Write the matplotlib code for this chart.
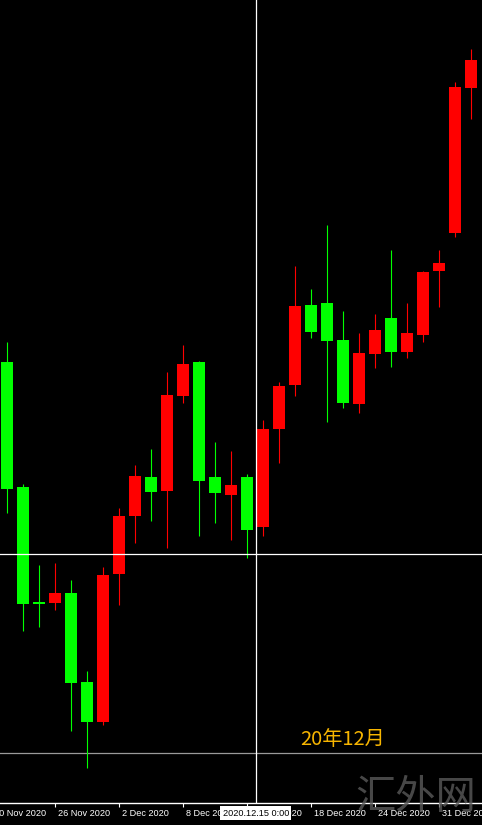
import matplotlib
matplotlib.use('Agg')
import matplotlib.pyplot as plt
import numpy as np

plt.rcParams['font.family'] = ['Liberation Sans', 'Noto Sans CJK SC', 'DejaVu Sans']

# daily candles, 23 Nov 2020 .. 5 Jan 2021
opens = [1870.2, 1837.5, 1807.1, 1807.1, 1809.8, 1786.5, 1776.0, 1814.7, 1829.9, 1840.1,
         1836.4, 1861.3, 1870.2, 1840.1, 1835.4, 1840.1, 1827.0, 1852.6, 1864.2, 1885.1,
         1885.6, 1875.9, 1859.2, 1872.3, 1881.7, 1872.8, 1877.2, 1894.0, 1903.9, 1941.8]
highs = [1875.4, 1838.3, 1817.1, 1817.6, 1813.2, 1789.4, 1816.6, 1832.0, 1843.2, 1847.4,
         1867.6, 1874.6, 1870.4, 1849.2, 1846.9, 1840.9, 1855.0, 1864.9, 1895.3, 1889.3,
         1906.0, 1883.5, 1877.8, 1882.7, 1899.5, 1885.6, 1894.0, 1899.5, 1943.4, 1952.0]
lows = [1830.7, 1799.8, 1800.9, 1805.3, 1773.7, 1764.0, 1775.2, 1806.6, 1822.8, 1828.6,
        1821.5, 1859.4, 1824.7, 1828.1, 1823.6, 1818.9, 1824.7, 1843.8, 1861.3, 1876.4,
        1854.5, 1858.1, 1856.8, 1868.6, 1868.9, 1871.2, 1875.4, 1884.6, 1902.9, 1933.7]
closes = [1837.0, 1806.9, 1806.9, 1809.8, 1786.2, 1776.0, 1814.5, 1829.9, 1840.4, 1836.2,
          1861.5, 1869.6, 1839.1, 1835.9, 1838.0, 1826.2, 1852.6, 1863.9, 1884.8, 1878.0,
          1875.7, 1859.4, 1872.5, 1878.5, 1872.8, 1877.8, 1893.7, 1896.1, 1942.1, 1949.1]

tick_idx = [-1, 3, 7, 11, 15, 19, 23, 27]
tick_labels = ['20 Nov 2020', '26 Nov 2020', '2 Dec 2020', '8 Dec 2020', '14 Dec 2020',
               '18 Dec 2020', '24 Dec 2020', '31 Dec 2020']

cross_x = 15.56
cross_price = 1820.0
level_price = 1767.9
cross_label = '2020.12.15 0:00'

fig = plt.figure(figsize=(4.82, 8.25), dpi=100, facecolor='black')
ax = fig.add_axes([0, 22 / 825, 1, 803 / 825])
ax.set_facecolor('black')

x = np.arange(len(opens))
o = np.array(opens)
c = np.array(closes)
up = c > o
col = np.where(up, '#ff0000', '#00ff00')

ax.vlines(x, lows, highs, colors=col, linewidth=0.8, zorder=2)
body = np.maximum(np.abs(c - o), 0.5)
ax.bar(x, body, bottom=np.minimum(o, c), width=0.69, color=col, linewidth=0, zorder=3)

# crosshair + level
ax.axhline(cross_price, color='white', linewidth=0.9, zorder=4)
ax.axvline(cross_x, color='white', linewidth=0.9, zorder=4)
ax.axhline(level_price, color='#9a9a9a', linewidth=0.9, zorder=1)

for s in ['top', 'left', 'right']:
    ax.spines[s].set_visible(False)
ax.spines['bottom'].set_color('white')
ax.spines['bottom'].set_linewidth(1)
ax.set_yticks([])
ax.set_xticks(tick_idx)
ax.set_xticklabels([])
ax.tick_params(axis='x', direction='out', length=3, width=0.8, colors='white')

ax.set_xlim(-0.4375, 29.6875)
ax.set_ylim(1754.8, 1964.8)

for t, lab in zip(tick_idx, tick_labels):
    ax.text(t + 0.17, -0.0125, lab, transform=ax.get_xaxis_transform(), color='white',
            fontsize=6.6, ha='left', va='center', clip_on=False, zorder=5)

ax.text(cross_x, -0.0125, cross_label, transform=ax.get_xaxis_transform(), color='black',
        fontsize=6.6, ha='center', va='center', clip_on=False, zorder=6,
        bbox=dict(boxstyle='square,pad=0.25', fc='white', ec='none'))

ax.text(18.3, 1771.3, '20年12月', color='#f7b500', fontsize=14.5, ha='left', va='center',
        family=['Noto Sans CJK SC', 'DejaVu Sans'], zorder=5)

fig.text(0.862, 0.033, '汇外网', color='#5a5a5a', alpha=0.8, fontsize=29, ha='center',
         va='center', family=['Noto Sans CJK SC', 'DejaVu Sans'], zorder=7)

fig.savefig('out.png', dpi=100, facecolor='black')
